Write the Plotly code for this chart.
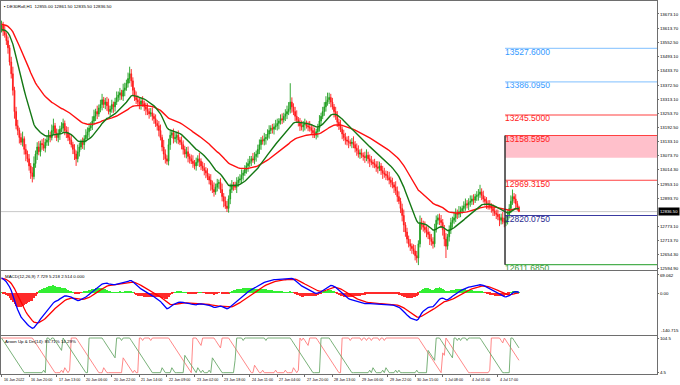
import plotly.graph_objects as go

# ---------------- data ----------------
closes = [
    13625, 13600, 13585, 13560, 13530, 13470, 13420, 13350, 13260, 13200,
    13180, 13150, 13130, 13145, 13100, 13080, 13060, 13030, 13000, 12985,
    13040, 13080, 13110, 13090, 13125, 13120, 13105, 13130, 13140, 13160,
    13150, 13180, 13200, 13170, 13150, 13165, 13185, 13190, 13210, 13180,
    13170, 13150, 13140, 13120, 13100, 13080, 13060, 13090, 13110, 13130,
    13120, 13145, 13160, 13175, 13190, 13200, 13220, 13240, 13260, 13250,
    13275, 13290, 13310, 13290, 13300, 13285, 13260, 13270, 13290, 13280,
    13300, 13320, 13330, 13340, 13325, 13350, 13360, 13380, 13400, 13420,
    13390, 13350, 13320, 13310, 13300, 13290, 13305, 13295, 13280, 13270,
    13260, 13250, 13255, 13240, 13230, 13210, 13200, 13180, 13150, 13110,
    13080, 13060, 13050, 13120, 13160, 13170, 13145, 13150, 13160, 13140,
    13130, 13120, 13100, 13080, 13090, 13070, 13060, 13050, 13040, 13030,
    13045, 13060, 13050, 13030, 13020, 13010, 13000, 12985, 12970, 12950,
    12930, 12920, 12940, 12955, 12960, 12930, 12900, 12880, 12860, 12850,
    12890, 12930, 12950, 12945, 12940, 12960, 12970, 12975, 12990, 13000,
    13015, 13030, 13040, 13050, 13060, 13055, 13070, 13080, 13100, 13120,
    13140, 13135, 13145, 13150, 13165, 13180, 13190, 13185, 13195, 13200,
    13210, 13220, 13230, 13225, 13240, 13250, 13260, 13270, 13300, 13280,
    13260, 13240, 13225, 13215, 13200, 13195, 13205, 13210, 13200, 13195,
    13190, 13180, 13170, 13160, 13175, 13190, 13220, 13240, 13260, 13280,
    13300, 13310, 13320, 13300, 13280, 13260, 13240, 13215, 13200, 13185,
    13165, 13150, 13140, 13135, 13130, 13125, 13130, 13120, 13105, 13095,
    13080, 13085, 13075, 13070, 13065, 13075, 13060, 13050, 13045, 13040,
    13035, 13025, 13020, 13030, 13010, 13000, 12995, 12990, 12980, 12970,
    12960, 12950, 12940, 12925, 12900, 12880, 12850, 12820, 12780, 12750,
    12720, 12700, 12690, 12680, 12670, 12650, 12640, 12700, 12790, 12780,
    12770, 12760, 12750, 12740, 12720, 12710, 12700, 12760, 12800, 12810,
    12800, 12790, 12760, 12720, 12690, 12730, 12760, 12790, 12800, 12810,
    12830, 12825, 12835, 12840, 12850, 12860, 12870, 12865, 12875, 12880,
    12890, 12885, 12900, 12905, 12910, 12920, 12905, 12890, 12880, 12870,
    12865, 12860, 12850, 12840, 12830, 12825, 12815, 12800, 12810, 12795,
    12790, 12800, 12820, 12850, 12880, 12900, 12890, 12870, 12855, 12836.5,
]
first_open = 13610

wick_up = [
    20, 15, 25, 10, 18, 12, 22, 30, 15, 20, 25, 12, 18, 30, 10, 22, 15, 20, 12, 25,
    30, 15, 20, 25, 12, 18, 28, 15, 20, 22, 15, 25, 30, 12, 18, 20, 15, 25, 20, 12,
    18, 25, 15, 20, 12, 22, 15, 30, 18, 12, 20, 15, 25, 18, 22, 15, 20, 28, 12, 25,
    15, 20, 25, 12, 18, 22, 30, 15, 20, 12, 18, 25, 15, 20, 12, 28, 22, 15, 25, 30,
    20, 15, 12, 25, 18, 22, 15, 20, 12, 18, 25, 15, 20, 22, 12, 18, 15, 20, 25, 12,
    30, 20, 15, 25, 20, 12, 18, 22, 15, 20, 12, 25, 18, 15, 20, 22, 12, 18, 25, 15,
    20, 15, 25, 12, 18, 22, 15, 20, 12, 25, 18, 30, 15, 20, 12, 18, 25, 15, 20, 22,
    15, 25, 20, 12, 18, 22, 15, 20, 25, 12, 18, 15, 20, 22, 12, 25, 18, 15, 20, 22,
    12, 18, 25, 15, 20, 22, 12, 18, 15, 25, 20, 12, 18, 22, 15, 20, 25, 30, 80, 20,
    15, 20, 25, 12, 18, 22, 15, 20, 12, 18, 25, 15, 20, 22, 12, 18, 25, 15, 20, 20,
    25, 30, 20, 15, 18, 12, 20, 22, 15, 25, 12, 18, 20, 15, 22, 12, 18, 25, 15, 20,
    22, 15, 18, 12, 20, 25, 15, 18, 22, 12, 20, 15, 25, 18, 12, 20, 22, 15, 18, 25,
    15, 20, 12, 25, 18, 22, 15, 20, 25, 12, 18, 15, 20, 12, 18, 25, 20, 15, 30, 20,
    18, 25, 15, 20, 12, 22, 18, 25, 20, 15, 18, 22, 15, 20, 25, 12, 18, 20, 15, 22,
    20, 15, 25, 18, 12, 20, 22, 15, 18, 25, 15, 20, 12, 18, 22, 30, 15, 20, 12, 18,
    15, 20, 12, 18, 22, 15, 20, 12, 18, 25, 15, 20, 22, 18, 25, 30, 15, 20, 12, 6.5,
]
wick_dn = [
    15, 20, 12, 18, 25, 15, 20, 22, 30, 15, 20, 25, 12, 18, 22, 30, 15, 20, 25, 25,
    12, 18, 25, 15, 20, 22, 12, 18, 15, 25, 20, 12, 18, 22, 15, 20, 25, 12, 18, 20,
    22, 15, 18, 12, 20, 25, 30, 15, 20, 12, 18, 22, 15, 20, 25, 12, 18, 15, 20, 22,
    12, 18, 25, 15, 20, 22, 12, 18, 15, 25, 20, 12, 18, 22, 15, 20, 25, 12, 18, 20,
    25, 20, 15, 18, 12, 20, 22, 15, 18, 25, 15, 20, 12, 18, 22, 15, 20, 25, 12, 18,
    25, 20, 15, 18, 22, 12, 20, 15, 25, 18, 12, 20, 22, 15, 18, 25, 20, 12, 18, 15,
    20, 15, 25, 18, 12, 20, 22, 15, 18, 25, 15, 20, 12, 18, 22, 15, 20, 25, 12, 15,
    18, 22, 15, 20, 12, 25, 18, 15, 20, 22, 12, 18, 25, 15, 20, 12, 18, 22, 15, 20,
    22, 15, 18, 25, 12, 20, 15, 18, 22, 12, 20, 25, 15, 18, 12, 20, 22, 15, 18, 25,
    15, 20, 12, 18, 22, 15, 20, 25, 12, 18, 15, 20, 22, 12, 18, 25, 15, 20, 12, 18,
    20, 15, 18, 22, 12, 25, 15, 20, 18, 12, 22, 15, 20, 18, 25, 12, 20, 15, 18, 22,
    15, 20, 12, 18, 22, 15, 20, 25, 12, 18, 15, 20, 22, 12, 18, 25, 15, 20, 12, 18,
    20, 15, 25, 18, 22, 12, 20, 25, 30, 20, 18, 15, 20, 22, 15, 20, 20, 30, 15, 20,
    18, 15, 22, 20, 25, 18, 20, 15, 12, 18, 20, 22, 25, 30, 50, 15, 20, 18, 22, 15,
    18, 20, 15, 22, 12, 18, 20, 15, 22, 18, 15, 20, 12, 18, 22, 15, 20, 15, 18, 22,
    20, 15, 18, 22, 12, 20, 15, 25, 18, 12, 20, 15, 18, 12, 20, 15, 18, 22, 15, 1,
]

# indicator seeds (values at the left edge of the picture)
ma_fast_seed, ma_slow_seed = 13605, 13630
ema12_seed, ema26_seed, signal_seed = 13590, 13530, 55

fib_levels = [13527.6, 13386.095, 13245.5, 13158.595, 12969.315, 12820.075, 12611.685]
fib_labels = ["13527.6000", "13386.0950", "13245.5000", "13158.5950", "12969.3150", "12820.0750", "12611.6850"]
fib_line_colors = ["#99ccff", "#99ccff", "#ff4040", "#ff4040", "#ff4040", "#3a3aa0", "#4caf50"]
fib_text_colors = ["#3399ff", "#3399ff", "#ff2020", "#ff2020", "#ff2020", "#2a2a90", "#3a9a3a"]
zone_bottom = 13065
current_price = 12836.5

price_ticks = [13673.10, 13613.70, 13552.50, 13493.10, 13433.70, 13372.50, 13313.10, 13253.70, 13192.50,
               13133.10, 13073.70, 13014.30, 12953.10, 12893.70, 12773.10, 12713.70, 12654.30, 12594.90]
macd_ticks = [69.062, 0.0]
macd_tick_text = ["69.062", "0.00"]
macd_min_label = "-140.715"
aroon_tick_text = ["104.5", "4.5"]

time_labels = ["16 Jun 2022", "16 Jun 20:00", "17 Jun 13:00", "20 Jun 06:00", "20 Jun 22:00", "21 Jun 14:00",
               "22 Jun 09:00", "23 Jun 02:00", "23 Jun 18:00", "24 Jun 11:00", "27 Jun 04:00", "27 Jun 20:00",
               "28 Jun 13:00", "29 Jun 06:00", "29 Jun 22:00", "30 Jun 15:00", "1 Jul 08:00", "4 Jul 01:00",
               "4 Jul 17:00"]
bars_per_label = 17
fib_anchor_bar = 310.4

# ---------------- derived series ----------------
n = len(closes)
idx = list(range(n))
opens = [first_open] + closes[:-1]
highs = [max(o, c) + w for o, c, w in zip(opens, closes, wick_up)]
lows = [min(o, c) - w for o, c, w in zip(opens, closes, wick_dn)]


def ema(vals, period, seed):
    a = 2.0 / (period + 1)
    e = seed
    out = []
    for v in vals:
        e += a * (v - e)
        out.append(e)
    return out


ma_fast = ema(closes, 20, ma_fast_seed)
ma_slow = ema(closes, 50, ma_slow_seed)
macd = [a - b for a, b in zip(ema(closes, 12, ema12_seed), ema(closes, 26, ema26_seed))]
signal = ema(macd, 9, signal_seed)
hist = [m - s for m, s in zip(macd, signal)]

P = 14
aroon_up, aroon_dn = [], []
for i in range(n):
    s = max(0, i - P)
    wh = highs[s:i + 1]
    wl = lows[s:i + 1]
    hi_pos = s + max(range(len(wh)), key=lambda k: (wh[k], k))
    lo_pos = s + min(range(len(wl)), key=lambda k: (wl[k], -k))
    aroon_up.append(100.0 * (P - (i - hi_pos)) / P)
    aroon_dn.append(100.0 * (P - (i - lo_pos)) / P)

# ---------------- figure ----------------
X_RANGE = [-0.31, 404.1]
FONT = "Liberation Sans"
tiny = dict(family=FONT, size=4.4, color="#000000")
xlab_font = dict(family=FONT, size=3.7, color="#000000")

fig = go.Figure()

fig.add_trace(go.Candlestick(
    x=idx, open=opens, high=highs, low=lows, close=closes,
    increasing=dict(line=dict(color="#1e9e1e", width=0.9), fillcolor="#1e9e1e"),
    decreasing=dict(line=dict(color="#ff1a1a", width=0.9), fillcolor="#ff1a1a"),
    whiskerwidth=0, xaxis="x", yaxis="y", showlegend=False, hoverinfo="skip"))

fig.add_trace(go.Scatter(x=idx, y=ma_slow, mode="lines", line=dict(color="#ff1010", width=1.4),
                         xaxis="x", yaxis="y", showlegend=False, hoverinfo="skip"))
fig.add_trace(go.Scatter(x=idx, y=ma_fast, mode="lines", line=dict(color="#147814", width=1.4),
                         xaxis="x", yaxis="y", showlegend=False, hoverinfo="skip"))

# fib labels (clipped to the price panel)
for lvl, lab, col in zip(fib_levels, fib_labels, fib_text_colors):
    fig.add_trace(go.Scatter(x=[fib_anchor_bar], y=[lvl], mode="text", text=[lab],
                             textposition="bottom right", cliponaxis=True,
                             textfont=dict(family="Liberation Sans", size=8.5, color=col),
                             xaxis="x", yaxis="y", showlegend=False, hoverinfo="skip"))

# MACD panel
fig.add_trace(go.Bar(x=idx, y=hist, width=0.55,
                     marker=dict(color=["#33ee33" if h >= 0 else "#ff2a2a" for h in hist], line=dict(width=0)),
                     xaxis="x2", yaxis="y2", showlegend=False, hoverinfo="skip"))
fig.add_trace(go.Scatter(x=idx, y=signal, mode="lines", line=dict(color="#ff0000", width=1.3),
                         xaxis="x2", yaxis="y2", showlegend=False, hoverinfo="skip", cliponaxis=True))
fig.add_trace(go.Scatter(x=idx, y=macd, mode="lines", line=dict(color="#0000ff", width=1.3),
                         xaxis="x2", yaxis="y2", showlegend=False, hoverinfo="skip", cliponaxis=True))

# Aroon panel
fig.add_trace(go.Scatter(x=idx, y=aroon_dn, mode="lines", line=dict(color="#ff7a7a", width=0.9),
                         xaxis="x3", yaxis="y3", showlegend=False, hoverinfo="skip"))
fig.add_trace(go.Scatter(x=idx, y=aroon_up, mode="lines", line=dict(color="#6aa86a", width=0.9),
                         xaxis="x3", yaxis="y3", showlegend=False, hoverinfo="skip"))

shapes = []
shapes.append(dict(type="line", xref="x domain", yref="y", x0=0, x1=1, y0=current_price, y1=current_price,
                   line=dict(color="#c8c8c8", width=1), layer="below"))
shapes.append(dict(type="rect", xref="x", yref="y", x0=fib_anchor_bar, x1=X_RANGE[1],
                   y0=zone_bottom, y1=fib_levels[3], fillcolor="#ffc0cb", line=dict(width=0), layer="below"))
for lvl, col in zip(fib_levels, fib_line_colors):
    shapes.append(dict(type="line", xref="x", yref="y", x0=fib_anchor_bar, x1=X_RANGE[1], y0=lvl, y1=lvl,
                       line=dict(color=col, width=1.2), layer="above"))
shapes.append(dict(type="line", xref="x", yref="y", x0=fib_anchor_bar, x1=fib_anchor_bar,
                   y0=fib_levels[-1], y1=fib_levels[3], line=dict(color="#333333", width=1.5)))

annotations = []
annotations.append(dict(xref="paper", yref="paper", x=0.001, y=1, xanchor="left", yanchor="top", yshift=-1,
                        text="▪ DE30Roll,H1  12855.00 12861.50 12835.50 12836.50", showarrow=False, font=tiny))
annotations.append(dict(xref="paper", yref="paper", x=0.003, y=0.2748, xanchor="left", yanchor="top", yshift=-1,
                        text="MACD(12,26,9) 7.729 5.218 2.514 0.000", showarrow=False, font=tiny))
annotations.append(dict(xref="paper", yref="paper", x=0.003, y=0.1019, xanchor="left", yanchor="top", yshift=-1,
                        text="Aroon Up & Dn(14): 85.71% 14.29%", showarrow=False, font=tiny))
annotations.append(dict(xref="paper", yref="y", x=1, y=current_price, xanchor="left", yanchor="middle", xshift=1,
                        text="12836.50", showarrow=False, bgcolor="#000000", borderpad=1,
                        font=dict(family=FONT, size=4.2, color="#ffffff")))
annotations.append(dict(xref="paper", yref="y2", x=1, y=-140.715, xanchor="left", yanchor="middle", xshift=2,
                        text=macd_min_label, showarrow=False, font=tiny))
for k, lab in enumerate(time_labels):
    annotations.append(dict(xref="x3", yref="paper", x=k * bars_per_label, y=0, xanchor="left", yanchor="top",
                            xshift=0, yshift=-2, text=lab, showarrow=False, font=xlab_font))

axis_line = dict(showline=True, mirror=True, linecolor="#6e6e6e", linewidth=1, showgrid=False, zeroline=False)

fig.update_layout(
    width=680, height=385, margin=dict(l=1, r=23, t=1, b=11),
    paper_bgcolor="#ffffff", plot_bgcolor="#ffffff", bargap=0,
    shapes=shapes, annotations=annotations, showlegend=False,
    xaxis=dict(domain=[0, 1], anchor="y", range=X_RANGE, showticklabels=False, ticks="",
               rangeslider=dict(visible=False), **axis_line),
    xaxis2=dict(domain=[0, 1], anchor="y2", range=X_RANGE, showticklabels=False, ticks="", **axis_line),
    xaxis3=dict(domain=[0, 1], anchor="y3", range=X_RANGE, showticklabels=False, ticks="outside", ticklen=2,
                tickcolor="#6e6e6e", tickvals=[k * bars_per_label for k in range(len(time_labels))], **axis_line),
    yaxis=dict(domain=[0.2775, 1], anchor="x", side="right", range=[12587.2, 13728.1],
               tickvals=price_ticks, ticktext=["%.2f" % v for v in price_ticks], tickfont=tiny,
               ticks="outside", ticklen=1, tickcolor="#6e6e6e", **axis_line),
    yaxis2=dict(domain=[0.1046, 0.2748], anchor="x2", side="right", range=[-156.9, 82.2],
                tickvals=macd_ticks, ticktext=macd_tick_text, tickfont=tiny,
                ticks="outside", ticklen=1, tickcolor="#6e6e6e", **axis_line),
    yaxis3=dict(domain=[0, 0.1019], anchor="x3", side="right", range=[-3.8, 105.8],
                tickvals=[100, 0], ticktext=aroon_tick_text, tickfont=tiny,
                ticks="outside", ticklen=1, tickcolor="#6e6e6e", **axis_line),
)

fig.write_html("out.html", config={"displayModeBar": False},
               post_script="document.body.style.margin='0';document.body.style.padding='0';document.body.style.overflow='hidden';")
